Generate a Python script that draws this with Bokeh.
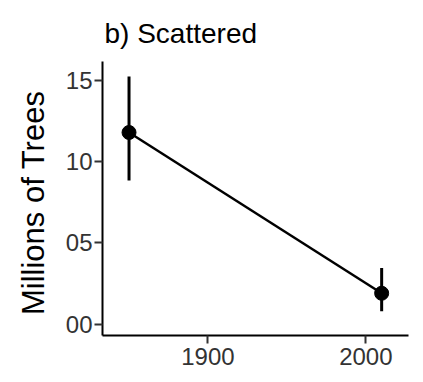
from bokeh.plotting import figure
from bokeh.models import Range1d, FixedTicker, ColumnDataSource
from bokeh.embed import file_html
from bokeh.resources import INLINE

# Data
years = [1850, 2010]
trees = [11.8, 1.9]
lower = [8.85, 0.8]
upper = [15.25, 3.45]

x_ticks = [1900, 2000]
y_ticks = [0, 5, 10, 15]
y_tick_labels = ["00", "05", "10", "15"]

title_text = "b) Scattered"
y_label = "Millions  of Trees"

src = ColumnDataSource(dict(x=years, y=trees, lo=lower, hi=upper))

FONT = "Liberation Sans"

p = figure(width=415, height=374, output_backend="svg", toolbar_location=None,
           x_range=Range1d(1833.2, 2027.0), y_range=Range1d(-0.7, 16.17),
           min_border_left=102, min_border_right=7, min_border_top=61, min_border_bottom=39)

p.title.text = title_text
p.title.align = "left"
p.title.vertical_align = "top"
p.title.offset = 2
p.title.text_font = FONT
p.title.text_font_size = "28px"
p.title.text_font_style = "normal"
p.title.text_color = "black"
p.title.standoff = 22

p.outline_line_color = None
p.xgrid.visible = False
p.ygrid.visible = False
p.background_fill_color = "white"
p.border_fill_color = "white"

p.segment(x0="x", y0="lo", x1="x", y1="hi", source=src, line_color="black", line_width=3)
p.line(x="x", y="y", source=src, line_color="black", line_width=2.5)
p.scatter(x="x", y="y", source=src, size=14, fill_color="black", line_color="black")

for ax in (p.xaxis[0], p.yaxis[0]):
    ax.axis_line_color = "black"
    ax.axis_line_width = 2
    ax.major_tick_line_color = "#333333"
    ax.major_tick_line_width = 2
    ax.major_tick_out = 8
    ax.major_tick_in = 0
    ax.minor_tick_line_color = None
    ax.major_label_text_font = FONT
    ax.major_label_text_font_size = "24px"
    ax.major_label_text_color = "#333333"

p.xaxis.ticker = FixedTicker(ticks=x_ticks)
p.yaxis.ticker = FixedTicker(ticks=y_ticks)
p.yaxis.major_label_overrides = {t: l for t, l in zip(y_ticks, y_tick_labels)}
p.xaxis.major_label_standoff = 4
p.yaxis.major_label_standoff = 2

p.yaxis.axis_label = y_label
p.yaxis.axis_label_text_font = FONT
p.yaxis.axis_label_text_font_size = "31px"
p.yaxis.axis_label_text_font_style = "normal"
p.yaxis.axis_label_text_color = "black"
p.yaxis.axis_label_standoff = 12

open("out.html", "w").write(file_html(p, INLINE))
